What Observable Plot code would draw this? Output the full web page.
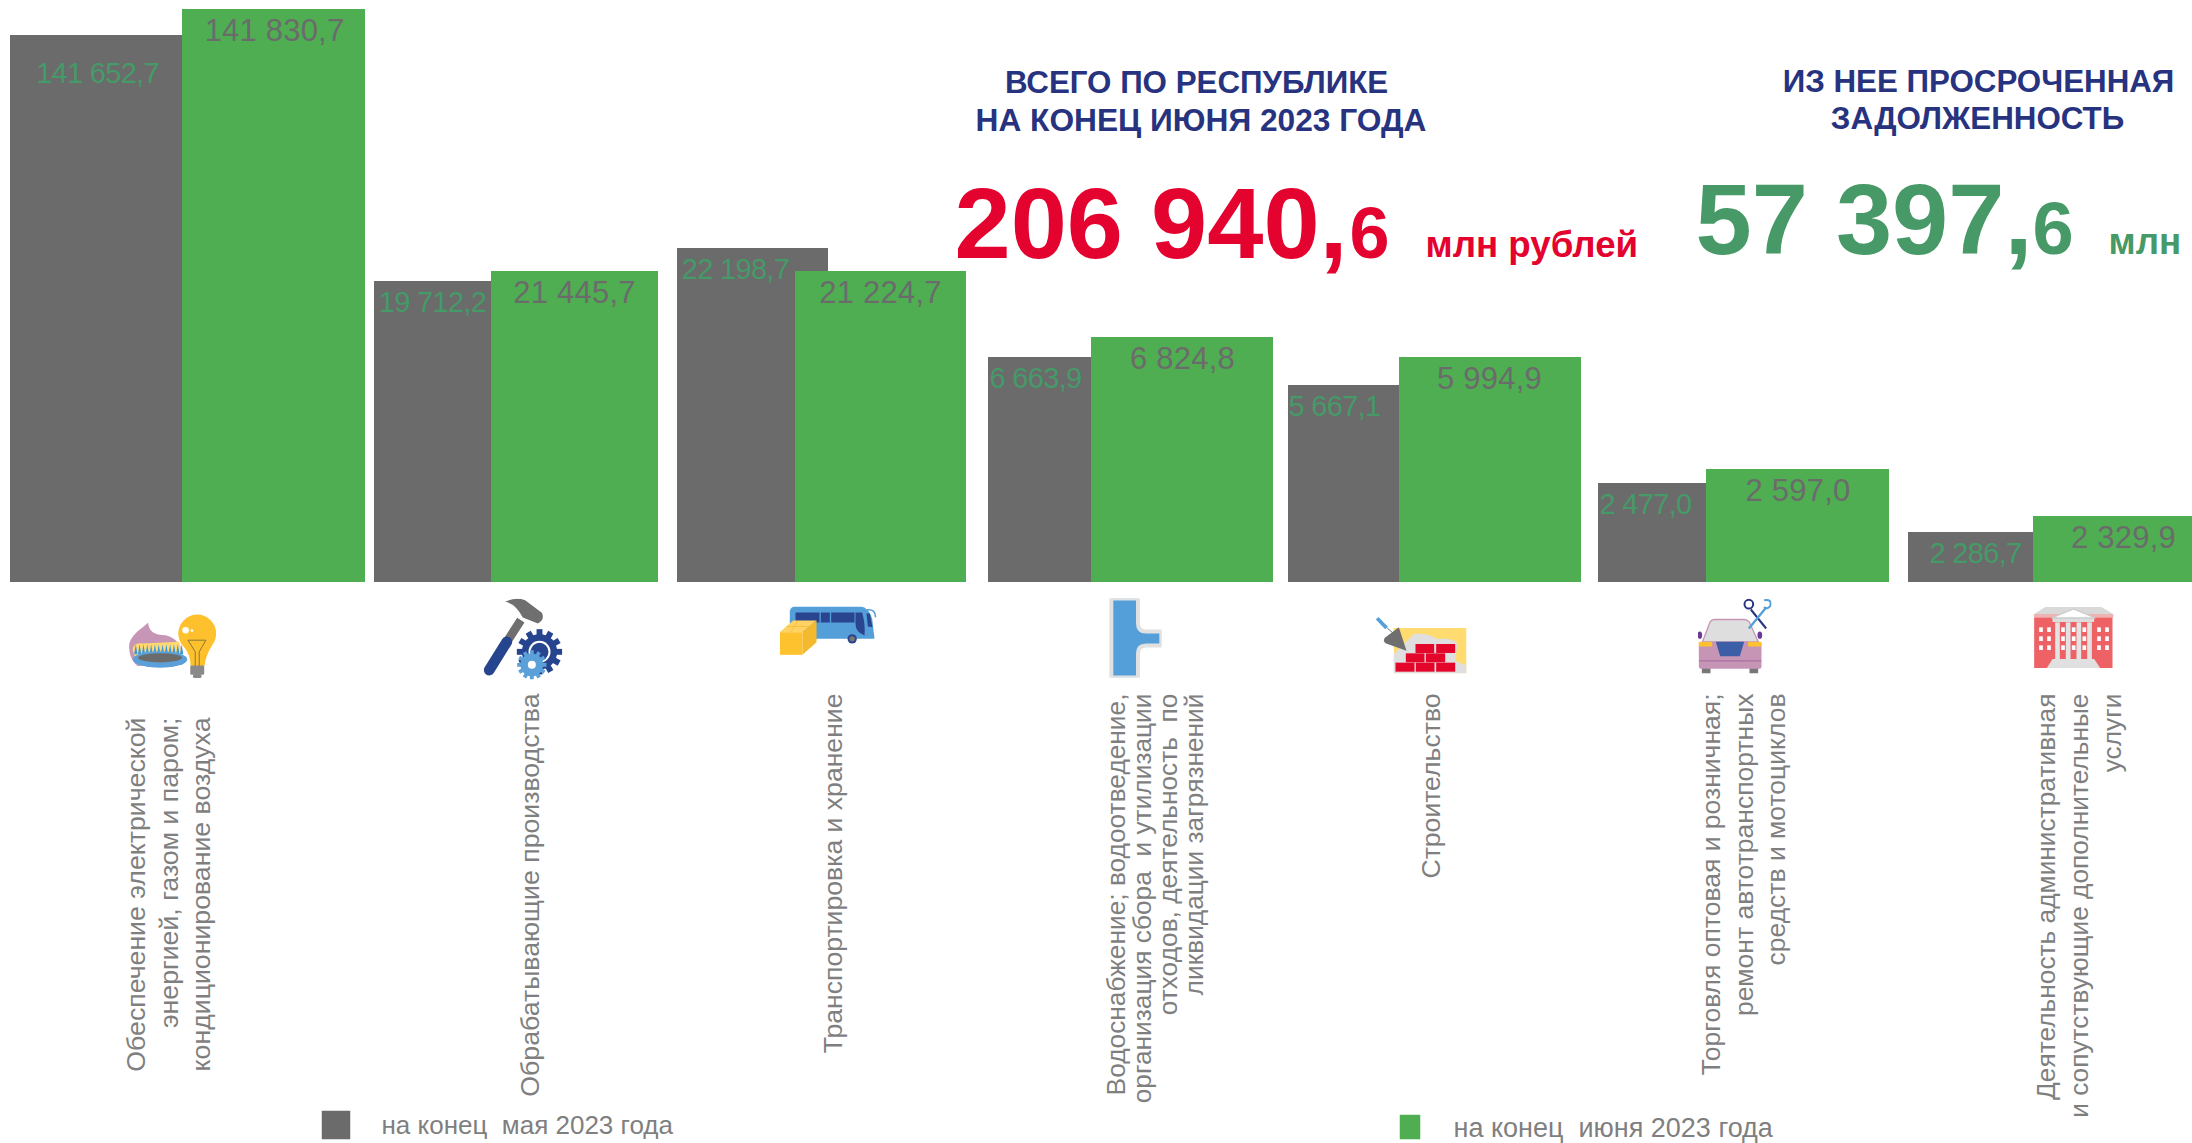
<!DOCTYPE html>
<html lang="ru">
<head>
<meta charset="utf-8">
<title>Задолженность по видам деятельности</title>
<script src="https://cdn.jsdelivr.net/npm/d3@7"></script>
<script src="https://cdn.jsdelivr.net/npm/@observablehq/plot@0.6"></script>
<style>
html,body{margin:0;padding:0;background:#fff;overflow:hidden}
svg{display:block}
svg text{white-space:pre}
g[font-size="29"] text{letter-spacing:-.7px}
g[font-size="31"] text{letter-spacing:.2px}
</style>
</head>
<body>
<div id="chart"></div>
<script>
// ---------- data ----------
const categories = [
  "Обеспечение электрической\nэнергией, газом и паром;\nкондиционирование воздуха",
  "Обрабатывающие производства",
  "Транспортировка и хранение",
  "Водоснабжение; водоотведение,\nорганизация сбора  и утилизации\nотходов, деятельность  по\nликвидации загрязнений",
  "Строительство",
  "Торговля оптовая и розничная;\nремонт автотранспортных\nсредств и мотоциклов",
  "Деятельность административная\nи сопутствующие дополнительные\nуслуги"
];
const mayValues  = [141652.7, 19712.2, 22198.7, 6663.9, 5667.1, 2477.0, 2286.7];
const juneValues = [141830.7, 21445.7, 21224.7, 6824.8, 5994.9, 2597.0, 2329.9];
const seriesNames = ["на конец  мая 2023 года", "на конец  июня 2023 года"];
const totalValue = "206 940,";
const totalDecimal = "6";
const overdueValue = "57 397,";
const overdueDecimal = "6";
const unitText = "млн рублей";
const unitShort = "млн";

// ---------- scales ----------
// The source bars are not drawn to scale (infographic with compressed heights),
// so the y scale is a piecewise mapping of value → height.
const yStops = [
  [0,582],[2286.7,532],[2329.9,516],[2477,483],[2597,469],[5667.1,385],[5994.9,357],
  [6663.9,357],[6824.8,337],[19712.2,281],[21224.7,271],[21445.7,271],[22198.7,248],
  [141652.7,35],[141830.7,9]
];
// Each category occupies one x unit with uneven widths in the source; the stops are
// gray start, gray label, green start, gray end, green label, green end.
const xFractions = [0, .25, .5, .6, .7, .9];
const xStops = [
  [10,97,182,210,274,365],
  [374,432,491,555,574,658],
  [677,735,795,828,880,966],
  [988,1035,1091,1100,1182,1273],
  [1288,1334,1399,1441,1489,1581],
  [1598,1645,1706,1716,1797.5,1889],
  [1908,1975,2033,2043,2123,2192]
];
const xDomain = xStops.flatMap((_, i) => xFractions.map(f => i + f));

const fmt = d3.formatLocale({decimal: ",", thousands: " ", grouping: [3]}).format(",.1f");
const rows = categories.map((c, i) => ({i, name: c, may: mayValues[i], june: juneValues[i]}));

// ---------- style ----------
const FONT = "Liberation Sans, Arial, sans-serif";
const GRAY = "#6b6b6b", GREEN = "#4fae52";
const GRAY_ON_GREEN = "#6b6b6b", GREEN_ON_GRAY = "#459a68";
const NAVY = "#27337f", RED = "#e4022e", DEEP_GREEN = "#479a67", LABEL = "#7f7f7f";

// ---------- free-standing text & pictures ----------
const note = (text, x, y, o = {}) => Plot.text([text], {
  text: d => d, frameAnchor: "top-left", dx: x, dy: y, lineAnchor: "bottom",
  textAnchor: "start", fontFamily: FONT, ...o
});
const uri = (vb, body) => "data:image/svg+xml," + encodeURIComponent(
  `<svg xmlns="http://www.w3.org/2000/svg" viewBox="${vb}">${body}</svg>`);
const picture = (x0, y0, x1, y1, vb, body) => Plot.image([0], {
  src: uri(vb, body), frameAnchor: "top-left",
  dx: (x0 + x1) / 2, dy: (y0 + y1) / 2, width: x1 - x0, height: y1 - y0
});
const gear = (cx, cy, r, color) => {
  let s = `<circle cx="${cx}" cy="${cy}" r="${r * .78}" fill="${color}"/>`;
  for (let a = 0; a < 360; a += 30)
    s += `<rect x="${cx - r * .13}" y="${cy - r}" width="${r * .26}" height="${r * .4}" fill="${color}" transform="rotate(${a} ${cx} ${cy})"/>`;
  return s;
};
let teeth = "";
for (let k = 0; k < 13; k++) {
  const tx = 105 + k * 11.5;
  teeth += `<path d="M${tx - 5} 192 L${tx} 162 L${tx + 5} 192Z" fill="#3f96d8"/>`;
}
const iconBurner = `<path d="M85 170C85 135 125 115 142 97C145 125 160 135 195 135C215 140 235 155 240 170L240 225L110 228C95 215 85 195 85 170Z" fill="#c795b5"/>
<path d="M95 178Q100 155 125 160L235 155L250 220L110 225Z" fill="#ffd970"/>${teeth}
<ellipse cx="178" cy="208" rx="82" ry="25" fill="#5ba0d8"/><ellipse cx="178" cy="203" rx="66" ry="14" fill="#6b6b6b"/>
<path d="M250 170Q270 195 270 228L312 228Q315 195 335 165Z" fill="#ffc02e"/><circle cx="290" cy="130" r="57" fill="#ffc02e"/>
<circle cx="255" cy="120" r="10" fill="#fff"/><circle cx="274" cy="121" r="4" fill="#fff"/>
<path d="M262 150L316 150L296 185L296 228M262 150L284 185L284 228" fill="none" stroke="#6b6b3a" stroke-width="2.5"/>
<rect x="269" y="226" width="42" height="28" rx="4" fill="#8a8a8a"/><rect x="277" y="252" width="26" height="12" rx="5" fill="#8a8a8a"/>`;
const iconHammer = `<path d="M1215 35Q1245 20 1275 30L1325 68Q1335 88 1313 100L1268 82Q1245 40 1215 35Z" fill="#6f6f6f"/>
<line x1="1262" y1="90" x2="1220" y2="155" stroke="#6f6f6f" stroke-width="26"/>
<line x1="1220" y1="155" x2="1167" y2="240" stroke="#27458f" stroke-width="32" stroke-linecap="round"/>
${gear(1318, 185, 68, "#27458f")}<circle cx="1318" cy="185" r="33" fill="#fff"/><circle cx="1318" cy="185" r="27" fill="#27458f"/>
${gear(1295, 224, 44, "#5ba0d8")}<circle cx="1295" cy="224" r="12" fill="#fff"/>`;
const iconBus = `<path d="M88 62Q90 48 105 48L300 48Q325 50 335 85L342 145L160 145L88 100Z" fill="#549fd9"/>
<rect x="105" y="66" width="72" height="30" fill="#2a4590"/><rect x="181" y="66" width="27" height="30" fill="#2a4590"/><rect x="212" y="66" width="70" height="30" fill="#2a4590"/>
<path d="M285 66L305 66Q315 100 312 135Q285 125 285 100Z" fill="#2a4590"/><path d="M318 68L328 70L336 110L322 108Z" fill="#2a4590"/>
<path d="M320 58Q345 55 345 80" fill="none" stroke="#549fd9" stroke-width="5"/>
<circle cx="275" cy="145" r="14" fill="#2a4590"/><circle cx="275" cy="145" r="8" fill="#777"/>
<rect x="58" y="125" width="68" height="68" fill="#fec22f"/><path d="M58 125L98 90L168 90L126 125Z" fill="#ffd262"/><path d="M126 125L168 90L168 155L126 193Z" fill="#f5b92d"/>
<path d="M78 108L148 108M113 90L92 125" stroke="#f5b92d" stroke-width="2"/>`;
const iconPipe = `<path d="M1053 25V262H1133V190Q1133 166 1157 166H1203V124H1157Q1133 124 1133 100V25Z" fill="#549fd9" stroke="#e1e1e1" stroke-width="12"/>`;
const iconBricks = `<rect x="160" y="112" width="218" height="136" fill="#ffdb70"/>
<path d="M160 248L160 190Q190 160 220 130Q260 125 290 145Q340 140 350 160L345 210L378 225L378 248Z" fill="#dfdfdf"/>
${[[225,160,56],[287,160,57],[196,188,56],[256,188,58],[165,216,57],[226,216,56],[287,216,57]].map(([x,y,w]) => `<rect x="${x}" y="${y}" width="${w}" height="27" fill="#e4062a"/>`).join("")}
<path d="M175 110L198 180L135 158Q125 150 135 140Z" fill="#6f6f6f"/><line x1="140" y1="112" x2="155" y2="125" stroke="#6f6f6f" stroke-width="3"/>
<line x1="110" y1="83" x2="138" y2="112" stroke="#549fd9" stroke-width="11"/>`;
const iconCar = `<rect x="63" y="230" width="26" height="20" fill="#777"/><rect x="206" y="230" width="26" height="20" fill="#777"/>
<ellipse cx="57" cy="135" rx="7" ry="11" fill="#6a3a98"/><ellipse cx="237" cy="135" rx="7" ry="11" fill="#6a3a98"/>
<path d="M65 155L88 95Q92 88 100 88L190 88Q200 88 205 95L232 155Z" fill="#dedede" stroke="#c695b5" stroke-width="4"/>
<rect x="54" y="155" width="188" height="81" rx="8" fill="#c695b5"/><rect x="54" y="155" width="40" height="14" fill="#fec22f"/><rect x="202" y="155" width="40" height="14" fill="#fec22f"/>
<path d="M105 155L190 155L177 198L118 198Z" fill="#3c5ea6"/><line x1="55" y1="212" x2="241" y2="212" stroke="#a96fa0" stroke-width="4"/>
<line x1="210" y1="58" x2="256" y2="115" stroke="#27347f" stroke-width="6"/><circle cx="204" cy="42" r="13" fill="none" stroke="#27347f" stroke-width="6"/>
<line x1="256" y1="52" x2="204" y2="115" stroke="#549fd9" stroke-width="7"/><path d="M250 30Q275 26 268 48Q258 60 250 50" fill="none" stroke="#549fd9" stroke-width="6"/>`;
let windows = "";
for (const x of [1080,1104,1146,1178,1210,1254,1278]) for (const y of [117,144,171])
  windows += `<rect x="${x - 5}" y="${y - 7}" width="11" height="14" fill="#fff"/>`;
const iconHall = `<rect x="1060" y="78" width="235" height="154" fill="#ee6266"/>${windows}
<path d="M1060 70L1095 48L1260 48L1297 70Z" fill="#d9d9d9"/><rect x="1058" y="70" width="240" height="11" fill="#eeb3b3"/>
<rect x="1115" y="82" width="125" height="12" fill="#ddd"/><path d="M1113 82L1178 55L1243 82Z" fill="#fff" stroke="#ccc" stroke-width="4"/>
${[1130,1162,1194,1226].map(x => `<rect x="${x - 7}" y="95" width="14" height="112" fill="#e3e3e3"/>`).join("")}
<path d="M1115 205L1240 205L1258 232L1098 232Z" fill="#e0e0e0"/>`;

// ---------- category label blocks: centre x, top y, line height, font size ----------
const labelBlocks = [[167,717,1.22,26.7],[530,693,1,26.7],[833,693,1,26.6],[1155,693,.99,26.3],[1431,693,1,26.6],[1741.5,693,1.24,26.5],[2077,693,1.25,26.3]];

const chart = Plot.plot({
  width: 2192, height: 1143,
  marginTop: 0, marginRight: 0, marginBottom: 0, marginLeft: 0,
  style: {background: "#fff", fontFamily: FONT, overflow: "hidden"},
  x: {type: "linear", domain: xDomain, range: xStops.flat(), axis: null},
  y: {type: "linear", domain: yStops.map(d => d[0]), range: yStops.map(d => d[1]), axis: null},
  marks: [
    Plot.rect(rows, {x1: d => d.i, x2: d => d.i + .6, y1: () => 0, y2: "may", fill: GRAY}),
    Plot.rect(rows, {x1: d => d.i + .5, x2: d => d.i + .9, y1: () => 0, y2: "june", fill: GREEN}),

    Plot.text(rows, {x: d => d.i + .25, y: "may", text: d => fmt(d.may),
      filter: d => d.i > 0, fill: GREEN_ON_GRAY, fontSize: 29, lineAnchor: "middle", fontFamily: FONT, dy: 21}),
    Plot.text(rows, {x: d => d.i + .25, y: "may", text: d => fmt(d.may),
      filter: d => d.i === 0, fill: GREEN_ON_GRAY, fontSize: 29, lineAnchor: "middle", fontFamily: FONT, dy: 38}),
    Plot.text(rows, {x: d => d.i + .7, y: "june", text: d => fmt(d.june), dy: 22,
      fill: GRAY_ON_GREEN, fontSize: 31, lineAnchor: "middle", fontFamily: FONT}),

    ...categories.map((c, i) => Plot.text([c], {
      text: d => d, frameAnchor: "top-left", dx: labelBlocks[i][0], dy: labelBlocks[i][1],
      rotate: -90, textAnchor: "end", lineAnchor: "middle", lineHeight: labelBlocks[i][2],
      fontSize: labelBlocks[i][3], fill: LABEL, fontFamily: FONT
    })),

    note("ВСЕГО ПО РЕСПУБЛИКЕ", 1196, 92, {textAnchor: "middle", fontSize: 31.3, fontWeight: 700, fill: NAVY}),
    note("НА КОНЕЦ ИЮНЯ 2023 ГОДА", 1200.5, 130, {textAnchor: "middle", fontSize: 31.7, fontWeight: 700, fill: NAVY}),
    note("ИЗ НЕЕ ПРОСРОЧЕННАЯ", 1978, 91, {textAnchor: "middle", fontSize: 31.3, fontWeight: 700, fill: NAVY}),
    note("ЗАДОЛЖЕННОСТЬ", 1977, 128, {textAnchor: "middle", fontSize: 31.3, fontWeight: 700, fill: NAVY}),

    note(totalValue, 954, 257, {fontSize: 101, fontWeight: 700, fill: RED}),
    note(totalDecimal, 1349, 257, {fontSize: 72, fontWeight: 700, fill: RED}),
    note(unitText, 1425, 256, {fontSize: 36.7, fontWeight: 700, fill: RED}),
    note(overdueValue, 1695, 253, {fontSize: 101, fontWeight: 700, fill: DEEP_GREEN}),
    note(overdueDecimal, 2032, 253, {fontSize: 74, fontWeight: 700, fill: DEEP_GREEN}),
    note(unitShort, 2108, 253, {fontSize: 36.7, fontWeight: 700, fill: DEEP_GREEN}),

    picture(127, 613, 216, 678, "80 70 268 195", iconBurner),
    picture(483, 598, 562, 679, "1150 25 237 243", iconHammer),
    picture(779, 606, 877, 655, "58 48 292 147", iconBus),
    picture(1108, 598, 1161, 677, "1045 25 158 237", iconPipe),
    picture(1375, 616, 1466, 673, "105 78 273 170", iconBricks),
    picture(1697, 598, 1771, 673, "50 25 222 225", iconCar),
    picture(2033, 606, 2113, 668, "1058 48 240 185", iconHall),

    picture(321, 1110, 350, 1139, "0 0 1 1", `<rect width="1" height="1" fill="${GRAY}"/>`),
    picture(1399, 1114, 1420, 1139, "0 0 21 25", `<rect width="21" height="25" fill="${GREEN}"/>`),
    note(seriesNames[0], 381, 1125, {lineAnchor: "middle", fontSize: 26, fill: LABEL}),
    note(seriesNames[1], 1453, 1128, {lineAnchor: "middle", fontSize: 27, fill: LABEL})
  ]
});
document.getElementById("chart").append(chart);
</script>
</body>
</html>
